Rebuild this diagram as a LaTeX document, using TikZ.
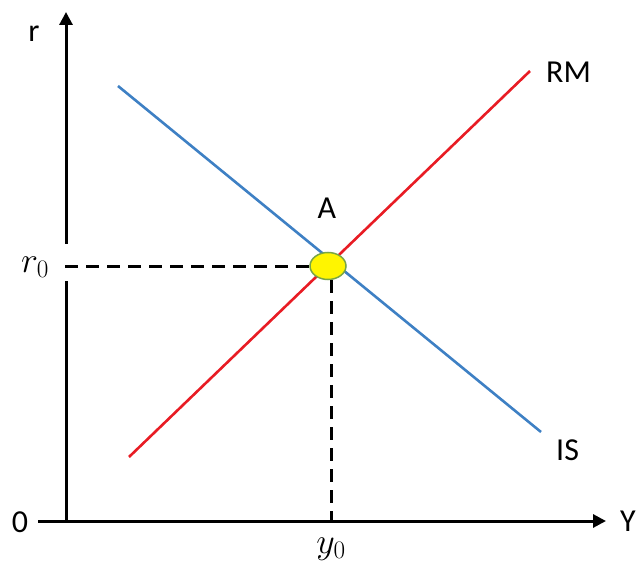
\RequirePackage{fix-cm}
\documentclass[tikz,border=0pt]{standalone}
\usepackage{fontspec}
\setmainfont{Carlito}
\usetikzlibrary{arrows.meta,shapes.geometric}
\definecolor{isblue}{RGB}{62,128,196}
\definecolor{rmred}{RGB}{232,28,36}
\definecolor{ptedge}{RGB}{120,165,70}
\definecolor{ptfill}{RGB}{255,245,0}
\begin{document}
\begin{tikzpicture}[x=1pt,y=-1pt,
  axis/.style={line width=3pt,-{Triangle[length=13pt,width=13pt]}},
  curveline/.style={line width=2.6pt},
  guide/.style={line width=3pt,dash pattern=on 13pt off 8pt},
  lbl/.style={font=\fontsize{32}{36}\selectfont,inner sep=0pt},
  mlbl/.style={font=\fontsize{36}{40}\selectfont,inner sep=0pt},
  pt/.style={ellipse,draw=ptedge,line width=1.5pt,fill=ptfill,minimum width=36pt,minimum height=27pt,inner sep=0pt}]
\useasboundingbox (0,0) rectangle (637,567);
% axes
\coordinate (O) at (66,521);
\coordinate (xstart) at (38,521);
\coordinate (ytop) at (66,12);
\coordinate (xend) at (606,521);
\draw[axis] (O) -- (ytop);
\draw[axis] (xstart) -- (xend);
% gap on the vertical axis by the r0 label
\fill[white] (62,244) rectangle (71,281);
% curves
\coordinate (is1) at (118,86);
\coordinate (is2) at (541,432);
\coordinate (rm1) at (129,457);
\coordinate (rm2) at (530,71);
\draw[curveline,isblue] (is1) -- (is2);
\draw[curveline,rmred] (rm1) -- (rm2);
% equilibrium point
\node[pt] (A) at (328,266) {};
\coordinate (rtick) at (65,266);
\coordinate (ytick) at (331,521);
\draw[guide] (rtick) -- (A.west);
\draw[guide] (A.south -| ytick) -- (ytick);
% labels
\node[lbl] (rlab) at (34,34) {r};
\node[lbl] (zlab) at (20,522) {0};
\node[lbl] (Ylab) at (628,521) {Y};
\node[lbl] (Alab) at (327,208) {A};
\node[lbl,anchor=west] (RMlab) at (546,72) {RM};
\node[lbl,anchor=west] (ISlab) at (556,450) {IS};
\node[mlbl] (r0lab) at (35,267) {$r_0$};
\node[mlbl] (y0lab) at (331,549) {$y_0$};
\end{tikzpicture}
\end{document}
